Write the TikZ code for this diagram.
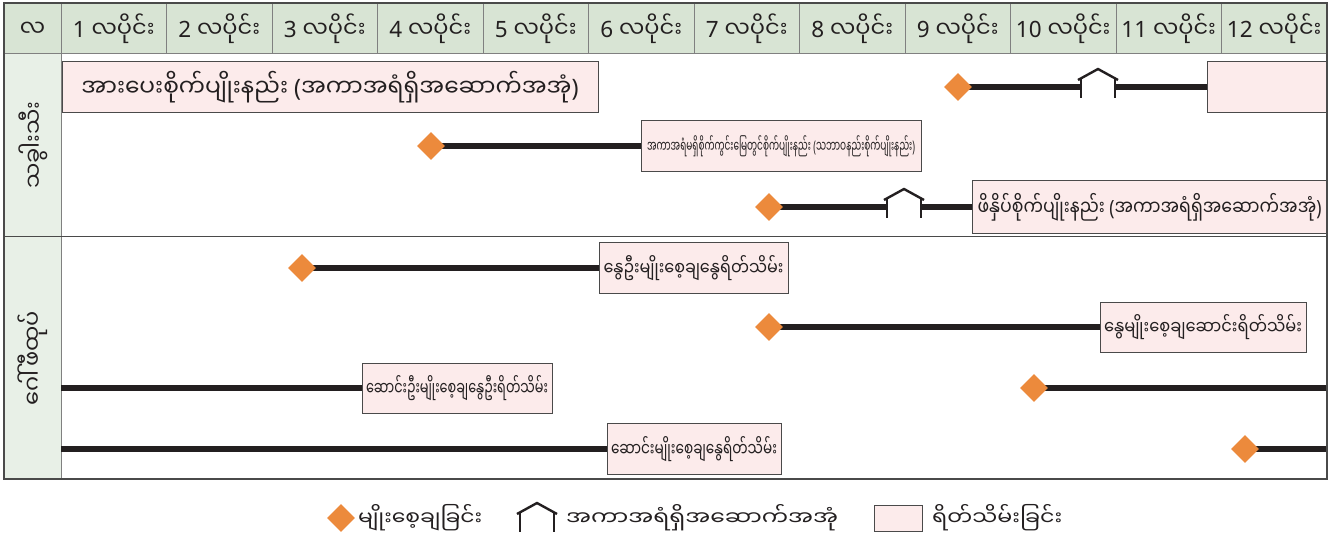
\documentclass[tikz,border=0pt]{standalone}
\usepackage{fontspec}
\usepackage{graphicx}
\setmainfont{Noto Sans}
\newfontfamily\myfont[Script=Myanmar]{Noto Sans Myanmar UI}
\newcommand\mm[1]{{\myfont #1}}
\newcommand\fitx[2]{\resizebox{#1pt}{\height}{#2}}
\usetikzlibrary{shapes.geometric}
\definecolor{hdrfill}{HTML}{D8E4D4}
\definecolor{sidefill}{HTML}{E8F0E7}
\definecolor{pinkfill}{HTML}{FCEBEB}
\definecolor{seedc}{HTML}{EC8A3C}
\definecolor{barc}{HTML}{231F20}
\definecolor{gridc}{HTML}{808080}
\definecolor{framec}{HTML}{4A4A4A}
\tikzset{
  seedmark/.style={diamond, fill=seedc, minimum size=28pt, inner sep=0pt},
  barline/.style={line width=6pt, draw=barc},
  harvest/.style={draw=framec, fill=pinkfill, line width=0.9pt, inner sep=0pt, align=center},
  hdrtext/.style={font=\fontsize{22.5}{26}\selectfont, text=barc},
  boxbig/.style={font=\fontsize{24}{28}\selectfont, text=barc},
  boxthree/.style={font=\fontsize{21}{25}\selectfont, text=barc},
  boxmid/.style={font=\fontsize{19}{22}\selectfont, text=barc},
  boxsmall/.style={font=\fontsize{16}{19}\selectfont, text=barc},
  legtext/.style={font=\fontsize{20}{24}\selectfont, text=barc, anchor=west, inner sep=0pt},
  house/.pic={
    \draw[barc, line width=2.4pt, line join=miter] (-20,-7) -- (0,-18) -- (20,-7);
    \draw[barc, line width=2.6pt] (-17,-9) -- (-17,11) (17,-9) -- (17,11);
    \coordinate (-l) at (-17,0);
    \coordinate (-r) at (17,0);
  }
}
\begin{document}
\begin{tikzpicture}[x=1pt,y=-1pt]
\useasboundingbox (0,0) rectangle (1334,537);
% backgrounds
\fill[hdrfill] (4,3) rectangle (1327,54);
\fill[sidefill] (4,54) rectangle (61,479);
% grid
\foreach \i in {1,...,11} \draw[gridc, line width=1pt] ({61+105.5*\i},3) -- ({61+105.5*\i},54);
\draw[gridc, line width=1pt] (61,3) -- (61,479);
\draw[gridc, line width=1pt] (4,54) -- (1327,54);
\draw[framec, line width=1pt] (4,237) -- (1327,237);
% header
\node[hdrtext] (m0) at (32.5,29) {\mm{လ}};
\foreach \i in {1,...,12}
  \node[hdrtext] (m\i) at ({61+105.5*(\i-0.5)},29) {\i~\mm{လပိုင်း}};
% side labels
\node[hdrtext, rotate=90] (s1) at (33,145) {\mm{သခွါးသီး}};
\node[hdrtext, rotate=90] (s2) at (33,358) {\mm{ဂေါ်ဖီထုပ်}};

% ---- section 1
% row 1
\node[harvest, boxbig, minimum width=536pt, minimum height=51pt] (b11) at (330,87)
  {\fitx{497}{\mm{အားပေးစိုက်ပျိုးနည်း} (\mm{အကာအရံရှိအဆောက်အအုံ})}};
\coordinate (p11) at (958,87);
\pic (h11) at (1098,87) {house};
\node[harvest, minimum width=120pt, minimum height=51pt] (e11) at (1267,87) {};
\draw[barline] (p11) -- (h11-l);
\draw[barline] (h11-r) -- (e11.west);
\node[seedmark] (d11) at (p11) {};
% row 2
\coordinate (p12) at (431,146);
\node[harvest, boxsmall, minimum width=280pt, minimum height=51pt] (b12) at (781,146)
  {\fitx{268}{\mm{အကာအရံမရှိစိုက်ကွင်းမြေတွင်စိုက်ပျိုးနည်း} (\mm{သဘာဝနည်းစိုက်ပျိုးနည်း})}};
\draw[barline] (p12) -- (b12.west);
\node[seedmark] (d12) at (p12) {};
% row 3
\coordinate (p13) at (769,207);
\pic (h13) at (904,207) {house};
\node[harvest, boxthree, minimum width=355pt, minimum height=53pt] (b13) at (1149.5,207)
  {\fitx{344}{\mm{ဖိနှိပ်စိုက်ပျိုးနည်း} (\mm{အကာအရံရှိအဆောက်အအုံ})}};
\draw[barline] (p13) -- (h13-l);
\draw[barline] (h13-r) -- (b13.west);
\node[seedmark] (d13) at (p13) {};

% ---- section 2
% row 1
\coordinate (p21) at (302,268);
\node[harvest, boxmid, minimum width=189pt, minimum height=51pt] (b21) at (693.5,268)
  {\fitx{180}{\mm{နွေဦးမျိုးစေ့ချနွေရိတ်သိမ်း}}};
\draw[barline] (p21) -- (b21.west);
\node[seedmark] (d21) at (p21) {};
% row 2
\coordinate (p22) at (769,327);
\node[harvest, boxmid, minimum width=206pt, minimum height=50pt] (b22) at (1203,327)
  {\fitx{198}{\mm{နွေမျိုးစေ့ချဆောင်းရိတ်သိမ်း}}};
\draw[barline] (p22) -- (b22.west);
\node[seedmark] (d22) at (p22) {};
% row 3
\coordinate (a23) at (61,388);
\node[harvest, boxmid, minimum width=190pt, minimum height=50pt] (b23) at (457,388)
  {\fitx{182}{\mm{ဆောင်းဦးမျိုးစေ့ချနွေဦးရိတ်သိမ်း}}};
\draw[barline] (a23) -- (b23.west);
\coordinate (p23) at (1034,388);
\coordinate (z23) at (1327,388);
\draw[barline] (p23) -- (z23);
\node[seedmark] (d23) at (p23) {};
% row 4
\coordinate (a24) at (61,449);
\node[harvest, boxmid, minimum width=174pt, minimum height=51pt] (b24) at (694,449)
  {\fitx{166}{\mm{ဆောင်းမျိုးစေ့ချနွေရိတ်သိမ်း}}};
\draw[barline] (a24) -- (b24.west);
\coordinate (p24) at (1245,449);
\coordinate (z24) at (1327,449);
\draw[barline] (p24) -- (z24);
\node[seedmark] (d24) at (p24) {};
% frame
\draw[framec, line width=1.2pt] (4,3) rectangle (1327,479);

% ---- legend
\node[seedmark] (ld) at (341,518) {};
\node[legtext] (lt1) at (358,518) {\fitx{124}{\mm{မျိုးစေ့ချခြင်း}}};
\pic (lh) at (537,521) {house};
\node[legtext] (lt2) at (566,518) {\fitx{272}{\mm{အကာအရံရှိအဆောက်အအုံ}}};
\node[harvest, minimum width=48pt, minimum height=26pt] (lb) at (898,518) {};
\node[legtext] (lt3) at (932,518) {\fitx{130}{\mm{ရိတ်သိမ်းခြင်း}}};
\end{tikzpicture}
\end{document}
